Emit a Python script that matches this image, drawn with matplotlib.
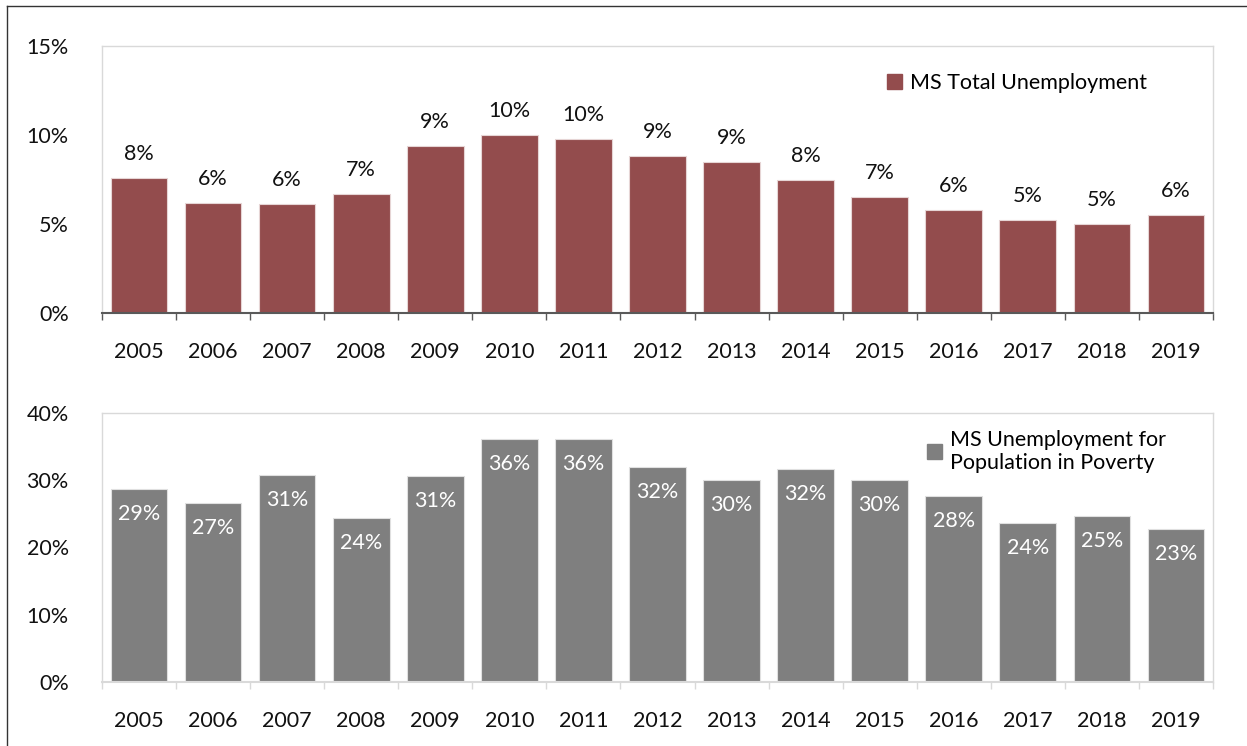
import matplotlib.pyplot as plt
import numpy as np
from matplotlib.lines import Line2D
from matplotlib.patches import Patch
from matplotlib.ticker import FixedLocator, PercentFormatter

years = ["2005", "2006", "2007", "2008", "2009", "2010", "2011", "2012",
         "2013", "2014", "2015", "2016", "2017", "2018", "2019"]
total_unemp = [7.6, 6.2, 6.1, 6.7, 9.4, 10.0, 9.8, 8.8, 8.5, 7.5, 6.5, 5.8, 5.2, 5.0, 5.5]
poverty_unemp = [28.7, 26.6, 30.8, 24.4, 30.6, 36.1, 36.1, 31.9, 30.1, 31.7, 30.1, 27.6, 23.7, 24.7, 22.8]

plt.rcParams["font.family"] = ["Lato", "DejaVu Sans"]
FS = 15.5
TXT = "#111111"

maroon = "#934C4D"
gray = "#7F7F7F"
light = "#D9D9D9"


def pct(v):
    # round half up, as spreadsheet labels do
    return f"{int(np.floor(v + 0.5))}%"


fig = plt.figure(figsize=(12.47, 7.46), dpi=100)
ax1 = fig.add_axes([0.0818, 0.5804, 0.8909, 0.3579])
ax2 = fig.add_axes([0.0818, 0.0858, 0.8909, 0.3606])

x = np.arange(len(years))
width = 0.765


def style(ax, ymax, step, base_color):
    ax.set_xlim(-0.5, len(years) - 0.5)
    ax.set_ylim(0, ymax)
    ax.yaxis.set_major_locator(FixedLocator(np.arange(0, ymax + 0.01, step)))
    ax.yaxis.set_major_formatter(PercentFormatter(decimals=0))
    ax.set_xticks(x)
    ax.set_xticklabels(years)
    ax.xaxis.set_minor_locator(FixedLocator(np.arange(-0.5, len(years), 1.0)))
    ax.tick_params(axis="x", which="major", length=0, pad=21, labelsize=FS, colors=TXT)
    ax.tick_params(axis="x", which="minor", length=5, width=1.0, color=base_color, direction="out")
    ax.tick_params(axis="y", length=0, pad=24, labelsize=FS, colors=TXT)
    for side in ("top", "right", "left"):
        ax.spines[side].set_color(light)
        ax.spines[side].set_linewidth(1.0)
    ax.spines["bottom"].set_color(base_color)
    ax.spines["bottom"].set_linewidth(1.5)


# Top panel: total unemployment
ax1.bar(x, total_unemp, width=width, color=maroon, edgecolor="#E6D5D5", linewidth=0.8, zorder=2)
style(ax1, 15, 5, "#595959")
for xi, v in zip(x, total_unemp):
    ax1.annotate(pct(v), (xi, v), xytext=(0, 14), textcoords="offset pixels",
                 ha="center", va="bottom", fontsize=FS, color=TXT)
ax1.legend(handles=[Patch(facecolor=maroon, edgecolor=maroon)], labels=["MS Total Unemployment"],
           loc="upper right", bbox_to_anchor=(0.958, 0.97), frameon=False, fontsize=FS,
           handlelength=0.7, handleheight=0.7, handletextpad=0.35)

# Bottom panel: unemployment for population in poverty
ax2.bar(x, poverty_unemp, width=width, color=gray, edgecolor="#E0E0E0", linewidth=0.8, zorder=2)
style(ax2, 40, 10, light)
for xi, v in zip(x, poverty_unemp):
    ax2.annotate(pct(v), (xi, v), xytext=(0, -25), textcoords="offset pixels",
                 ha="center", va="center", fontsize=FS, color="white")
ax2.legend(handles=[Patch(facecolor=gray, edgecolor=gray)],
           labels=["MS Unemployment for\nPopulation in Poverty"],
           loc="upper right", bbox_to_anchor=(0.975, 1.01), frameon=False, fontsize=FS,
           handlelength=0.7, handleheight=0.7, handletextpad=0.35, labelspacing=0.2)

# Outer frame lines (top and left)
fig.add_artist(Line2D([0.0056, 1.0], [0.992, 0.992], transform=fig.transFigure, color="#333333", linewidth=1.0))
fig.add_artist(Line2D([0.0056, 0.0056], [0.0, 0.992], transform=fig.transFigure, color="#333333", linewidth=1.0))

fig.savefig("out.png", dpi=100)
